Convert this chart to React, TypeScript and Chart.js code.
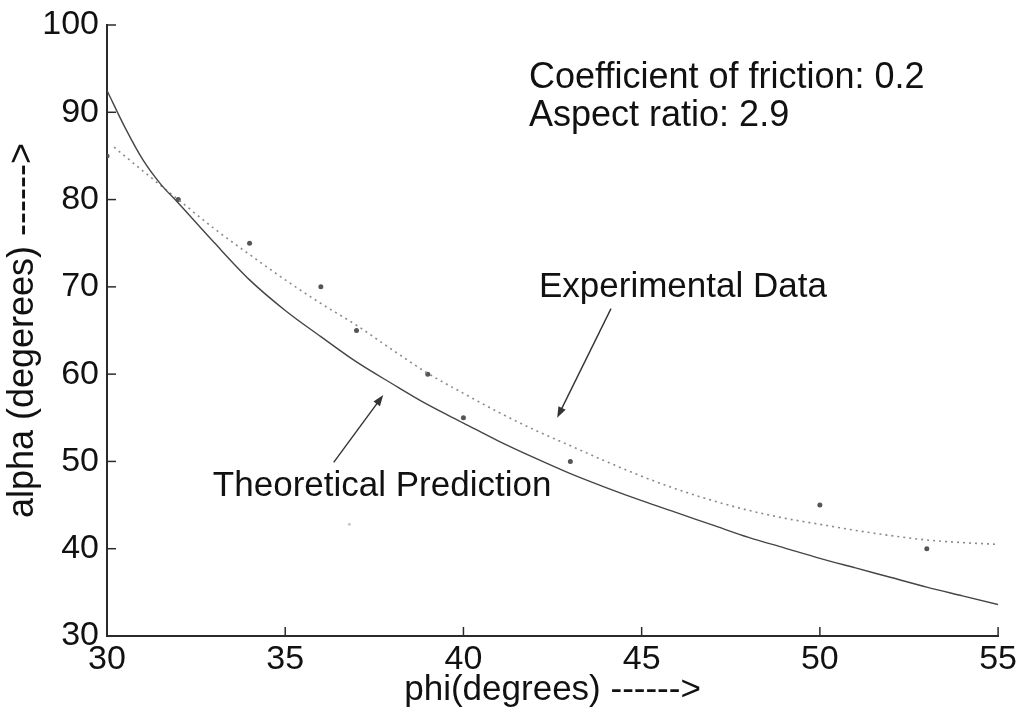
import React, { useEffect, useRef } from "react";
import { Chart, registerables } from "chart.js";

Chart.register(...registerables);

// ---- Data ----
const theoryPhi = [30, 30.5, 31, 31.5, 32, 33, 34, 35, 36, 37, 38, 39, 40, 41, 42, 43, 44, 45, 46, 47, 48, 49, 50, 51, 52, 53, 54, 55];
const theoryAlpha = [92.5, 88.3, 84.6, 81.8, 79.6, 75.1, 70.8, 67.3, 64.3, 61.4, 58.9, 56.5, 54.4, 52.3, 50.4, 48.6, 47.0, 45.5, 44.1, 42.7, 41.3, 40.1, 38.9, 37.8, 36.7, 35.6, 34.6, 33.6];

const fitPhi = [30.2, 31, 32, 33, 34, 35, 36, 37, 38, 39, 40, 41, 42, 43, 44, 45, 46, 47, 48, 49, 50, 51, 52, 53, 54, 55];
const fitAlpha = [86.0, 83.3, 80.0, 76.7, 73.7, 70.8, 68.1, 65.6, 62.8, 60.1, 57.8, 55.6, 53.6, 51.8, 50.0, 48.3, 46.8, 45.5, 44.4, 43.5, 42.8, 42.1, 41.5, 41.0, 40.7, 40.5];

const expPhi = [30, 32, 34, 36, 37, 39, 40, 43, 50, 53];
const expAlpha = [85, 80, 75, 70, 65, 60, 55, 50, 45, 40];

const strayPhi = [36.8];
const strayAlpha = [42.8];

const xTicks = [30, 35, 40, 45, 50, 55];
const yTicks = [30, 40, 50, 60, 70, 80, 90, 100];

const xTitle = "phi(degrees) ------>";
const yTitle = "alpha (degerees) ------>";

const infoLines = ["Coefficient of friction: 0.2", "Aspect ratio: 2.9"];
const infoPhi = 41.84;
const infoAlpha = [92.8, 88.45];

const expLabel = "Experimental Data";
const expLabelPos = { x: 42.12, y: 68.85 };
const expArrow = { x1: 44.14, y1: 67.5, x2: 42.63, y2: 55.0 };

const theoLabel = "Theoretical Prediction";
const theoLabelPos = { x: 32.97, y: 46.0 };
const theoArrow = { x1: 36.36, y1: 49.9, x2: 37.75, y2: 57.6 };

const FONT = "'Liberation Sans', Arial, Helvetica, sans-serif";

const toXY = (xs: number[], ys: number[]) => xs.map((x, i) => ({ x, y: ys[i] }));

const overlayPlugin = {
  id: "overlay",
  afterDatasetsDraw(chart: any) {
    const { ctx, scales, chartArea } = chart;
    const xs = scales.x;
    const ys = scales.y;
    ctx.save();
    // inward ticks
    ctx.strokeStyle = "#2a2a2a";
    ctx.lineWidth = 1.5;
    xTicks.forEach((v) => {
      const px = xs.getPixelForValue(v);
      ctx.beginPath();
      ctx.moveTo(px, chartArea.bottom);
      ctx.lineTo(px, chartArea.bottom - 9);
      ctx.stroke();
    });
    yTicks.forEach((v) => {
      const py = ys.getPixelForValue(v);
      ctx.beginPath();
      ctx.moveTo(chartArea.left, py);
      ctx.lineTo(chartArea.left + 9, py);
      ctx.stroke();
    });

    // text annotations
    ctx.fillStyle = "#111";
    ctx.textBaseline = "alphabetic";
    ctx.textAlign = "left";
    ctx.font = `36px ${FONT}`;
    infoLines.forEach((t, i) => {
      ctx.fillText(t, xs.getPixelForValue(infoPhi), ys.getPixelForValue(infoAlpha[i]));
    });
    ctx.font = `35px ${FONT}`;
    ctx.fillText(expLabel, xs.getPixelForValue(expLabelPos.x), ys.getPixelForValue(expLabelPos.y));
    ctx.fillText(theoLabel, xs.getPixelForValue(theoLabelPos.x), ys.getPixelForValue(theoLabelPos.y));

    // arrows
    const arrow = (a: { x1: number; y1: number; x2: number; y2: number }) => {
      const x1 = xs.getPixelForValue(a.x1);
      const y1 = ys.getPixelForValue(a.y1);
      const x2 = xs.getPixelForValue(a.x2);
      const y2 = ys.getPixelForValue(a.y2);
      const ang = Math.atan2(y2 - y1, x2 - x1);
      const len = 11;
      const hw = 4;
      ctx.strokeStyle = "#333";
      ctx.fillStyle = "#333";
      ctx.lineWidth = 1.4;
      ctx.beginPath();
      ctx.moveTo(x1, y1);
      ctx.lineTo(x2 - Math.cos(ang) * len * 0.8, y2 - Math.sin(ang) * len * 0.8);
      ctx.stroke();
      ctx.beginPath();
      ctx.moveTo(x2, y2);
      ctx.lineTo(
        x2 - Math.cos(ang) * len + Math.sin(ang) * hw,
        y2 - Math.sin(ang) * len - Math.cos(ang) * hw
      );
      ctx.lineTo(
        x2 - Math.cos(ang) * len - Math.sin(ang) * hw,
        y2 - Math.sin(ang) * len + Math.cos(ang) * hw
      );
      ctx.closePath();
      ctx.fill();
    };
    arrow(expArrow);
    arrow(theoArrow);
    ctx.restore();
  },
};

export default function App() {
  const canvasRef = useRef<HTMLCanvasElement | null>(null);

  useEffect(() => {
    document.body.style.margin = "0";
    const canvas = canvasRef.current;
    if (!canvas) return;
    const chart = new Chart(canvas, {
      type: "line",
      data: {
        datasets: [
          {
            label: "Theoretical Prediction",
            data: toXY(theoryPhi, theoryAlpha),
            borderColor: "#454545",
            borderWidth: 1.4,
            pointRadius: 0,
            tension: 0.4,
            cubicInterpolationMode: "monotone",
            fill: false,
          },
          {
            label: "Experimental fit",
            data: toXY(fitPhi, fitAlpha),
            borderColor: "#8a8a8a",
            borderWidth: 1.6,
            borderDash: [2, 4],
            pointRadius: 0,
            tension: 0.4,
            cubicInterpolationMode: "monotone",
            fill: false,
          },
          {
            label: "Experimental Data",
            data: toXY(expPhi, expAlpha),
            showLine: false,
            pointRadius: 2.5,
            pointBackgroundColor: "#555",
            pointBorderWidth: 0,
            borderColor: "#555",
          },
          {
            label: "stray",
            data: toXY(strayPhi, strayAlpha),
            showLine: false,
            pointRadius: 1.5,
            pointBackgroundColor: "#c8c8c8",
            pointBorderWidth: 0,
            borderColor: "#c8c8c8",
          },
        ],
      },
      options: {
        animation: false,
        responsive: false,
        devicePixelRatio: 1,
        layout: { padding: { left: 0, top: 20, right: 24, bottom: 0 } },
        plugins: {
          legend: { display: false },
          tooltip: { enabled: false },
        },
        scales: {
          x: {
            type: "linear",
            min: 30,
            max: 55,
            afterBuildTicks: (scale: any) => {
              scale.ticks = xTicks.map((v) => ({ value: v }));
            },
            afterFit: (scale: any) => {
              scale.height = 83;
            },
            grid: { display: false, drawTicks: false },
            border: { display: true, color: "#2a2a2a", width: 2 },
            ticks: {
              padding: 7,
              color: "#111",
              maxRotation: 0,
              font: { family: FONT, size: 34, lineHeight: 1 },
            },
            title: {
              display: true,
              text: xTitle,
              color: "#111",
              padding: { top: 0, bottom: 8 },
              font: { family: FONT, size: 35 },
            },
          },
          y: {
            type: "linear",
            min: 30,
            max: 100,
            afterBuildTicks: (scale: any) => {
              scale.ticks = yTicks.map((v) => ({ value: v }));
            },
            afterFit: (scale: any) => {
              scale.width = 107;
            },
            grid: { display: false, drawTicks: false },
            border: { display: true, color: "#2a2a2a", width: 2 },
            ticks: {
              padding: 8,
              color: "#111",
              font: { family: FONT, size: 34, lineHeight: 1 },
            },
            title: {
              display: true,
              text: yTitle,
              color: "#111",
              padding: { top: 1, bottom: 0 },
              font: { family: FONT, size: 36 },
            },
          },
        },
      },
      plugins: [overlayPlugin],
    } as any);
    return () => chart.destroy();
  }, []);

  return (
    <div style={{ position: "absolute", left: 0, top: 0, width: 1024, height: 719, background: "#fff" }}>
      <canvas ref={canvasRef} width={1024} height={719} style={{ display: "block" }} />
    </div>
  );
}
